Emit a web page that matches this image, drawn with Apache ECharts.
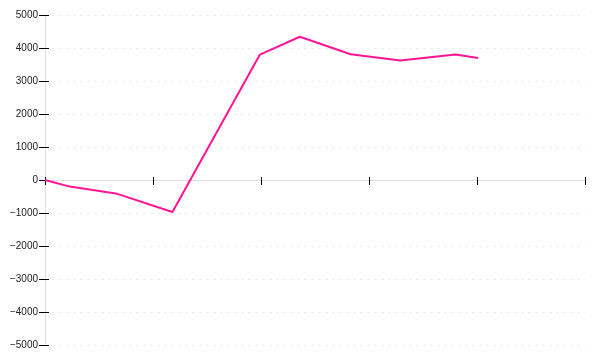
<!DOCTYPE html>
<html>
<head>
<meta charset="utf-8">
<script src="https://cdn.jsdelivr.net/npm/echarts@6/dist/echarts.min.js"></script>
<style>html,body{margin:0;padding:0;background:#fff;}#c{width:600px;height:360px;}</style>
</head>
<body>
<div id="c"></div>
<script>
var xValues = [0, 0.23, 0.67, 1.18, 1.99, 2.36, 2.83, 3.29, 3.80, 4.01];
var yValues = [0, -200, -420, -970, 3800, 4340, 3810, 3620, 3800, 3700];
var yTicks = [-5000, -4000, -3000, -2000, -1000, 0, 1000, 2000, 3000, 4000, 5000];

var points = xValues.map(function (x, i) { return [x, yValues[i]]; });
var fontFamily = 'Liberation Sans, Arial, sans-serif';

var chart = echarts.init(document.getElementById('c'));
chart.setOption({
  animation: false,
  backgroundColor: '#fff',
  grid: { left: 45, right: 15, top: 15, bottom: 15, containLabel: false },
  xAxis: [{
    type: 'value', min: 0, max: 5, interval: 1,
    axisLine: { show: true, onZero: true, lineStyle: { color: '#ddd', width: 1 } },
    axisTick: { show: true, inside: false, length: 5, lineStyle: { color: '#000', width: 1 } },
    axisLabel: { show: false },
    splitLine: { show: false }
  }, {
    type: 'value', min: 0, max: 5, interval: 1, position: 'bottom',
    axisLine: { show: false, onZero: true },
    axisTick: { show: true, inside: true, length: 3, lineStyle: { color: '#000', width: 1 } },
    axisLabel: { show: false },
    splitLine: { show: false }
  }],
  yAxis: [{
    type: 'value', min: yTicks[0], max: yTicks[yTicks.length - 1], interval: 1000,
    axisLine: { show: true, onZero: false, lineStyle: { color: '#ddd', width: 1 } },
    axisTick: { show: true, inside: false, length: 6, lineStyle: { color: '#000', width: 1 } },
    axisLabel: {
      show: true, margin: 7, color: '#222', fontSize: 10, fontFamily: fontFamily,
      formatter: function (v) { return String(v).replace('-', '\u2212'); }
    },
    splitLine: { show: true, lineStyle: { color: '#eee', width: 1, type: [3, 4] } }
  }, {
    type: 'value', min: yTicks[0], max: yTicks[yTicks.length - 1], interval: 1000, position: 'left', offset: 0,
    axisLine: { show: false, onZero: false },
    axisTick: { show: true, inside: true, length: 4, lineStyle: { color: '#000', width: 1 } },
    axisLabel: { show: false },
    splitLine: { show: false }
  }],
  series: [{
    type: 'line',
    xAxisIndex: 0, yAxisIndex: 0,
    data: points,
    showSymbol: false,
    symbol: 'none',
    lineStyle: { color: '#ff1493', width: 2 },
    itemStyle: { color: '#ff1493' }
  }]
});
</script>
</body>
</html>
